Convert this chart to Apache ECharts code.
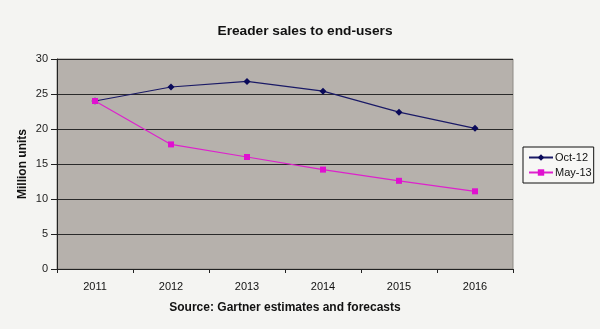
<!DOCTYPE html>
<html>
<head>
<meta charset="utf-8">
<script src="https://cdn.jsdelivr.net/npm/echarts@6/dist/echarts.min.js"></script>
<style>
  html, body { margin: 0; padding: 0; background: #f4f4f2; }
  #chart { width: 600px; height: 329px; }
</style>
</head>
<body>
<div id="chart"></div>
<script>
// Ereader sales to end-users (million units), two Gartner forecasts
const years = ['2011', '2012', '2013', '2014', '2015', '2016'];
const oct12 = [24.0, 26.0, 26.8, 25.4, 22.4, 20.1];
const may13 = [24.0, 17.8, 16.0, 14.2, 12.6, 11.1];
const seriesNames = ['Oct-12', 'May-13'];

const font = 'Liberation Sans, Arial, sans-serif';
const chart = echarts.init(document.getElementById('chart'), null, { renderer: 'canvas' });

chart.setOption({
  backgroundColor: '#f4f4f2',
  animation: false,
  title: {
    text: 'Ereader sales to end-users',
    left: 300,
    top: 19,
    textAlign: 'center',
    textStyle: { fontFamily: font, fontSize: 13.7, fontWeight: 'bold', color: '#111' }
  },
  grid: {
    left: 57, right: 87, top: 59, bottom: 60,
    show: true,
    backgroundColor: '#b6b1ac',
    borderColor: '#8e8a86',
    borderWidth: 1
  },
  legend: {
    orient: 'vertical',
    left: 523,
    top: 147,
    padding: [5, 2, 5, 5],
    itemGap: 4,
    itemWidth: 24,
    itemHeight: 8,
    borderColor: '#111',
    borderWidth: 1,
    backgroundColor: '#f7f7f5',
    textStyle: { fontFamily: font, fontSize: 11, color: '#111', padding: [0, 0, 0, -3] },
    data: seriesNames
  },
  xAxis: {
    type: 'category',
    data: years,
    boundaryGap: true,
    name: 'Source: Gartner estimates and forecasts',
    nameLocation: 'middle',
    nameGap: 33,
    nameMoveOverlap: false,
    nameTextStyle: { fontFamily: font, fontSize: 12, fontWeight: 'bold', color: '#111' },
    axisLine: { lineStyle: { color: '#222', width: 1 } },
    axisTick: { show: true, length: 4, inside: false, lineStyle: { color: '#222' } },
    axisLabel: { fontFamily: font, fontSize: 11, color: '#111', margin: 12 }
  },
  yAxis: {
    type: 'value',
    min: 0,
    max: 30,
    interval: 5,
    name: 'Million units',
    nameLocation: 'middle',
    nameGap: 28,
    nameMoveOverlap: false,
    nameRotate: 90,
    nameTextStyle: { fontFamily: font, fontSize: 12, fontWeight: 'bold', color: '#111' },
    axisLine: { show: true, lineStyle: { color: '#222', width: 1 } },
    axisTick: { show: true, length: 6, lineStyle: { color: '#222' } },
    axisLabel: { fontFamily: font, fontSize: 11, color: '#222', margin: 9 },
    splitLine: { show: true, lineStyle: { color: '#2a2a2a', width: 1 } }
  },
  series: [
    {
      name: seriesNames[0],
      type: 'line',
      data: oct12,
      symbol: 'diamond',
      symbolSize: 7,
      color: '#0a0a5a',
      lineStyle: { color: '#1a1a66', width: 1.2 },
      itemStyle: { color: '#0a0a5a' }
    },
    {
      name: seriesNames[1],
      type: 'line',
      data: may13,
      symbol: 'rect',
      symbolSize: 6,
      color: '#e010d0',
      lineStyle: { color: '#dd22cc', width: 1.2 },
      itemStyle: { color: '#e010d0' }
    }
  ]
});
</script>
</body>
</html>
